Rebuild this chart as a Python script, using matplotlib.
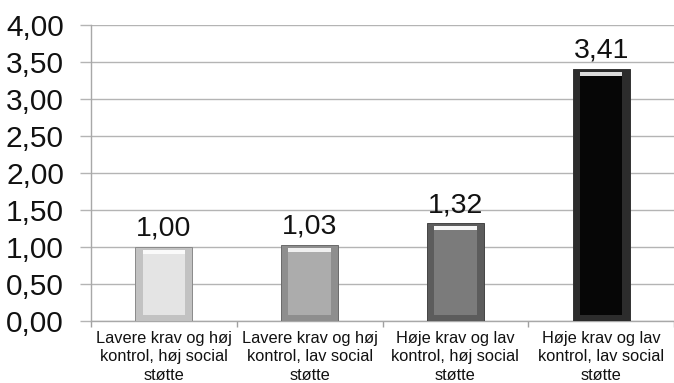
import matplotlib
matplotlib.use("Agg")
import matplotlib.pyplot as plt
import numpy as np

categories = ["Lavere krav og høj\nkontrol, høj social\nstøtte",
              "Lavere krav og høj\nkontrol, lav social\nstøtte",
              "Høje krav og lav\nkontrol, høj social\nstøtte",
              "Høje krav og lav\nkontrol, lav social\nstøtte"]
values = [1.00, 1.03, 1.32, 3.41]
value_labels = ["1,00", "1,03", "1,32", "3,41"]
yticks = [0.0, 0.5, 1.0, 1.5, 2.0, 2.5, 3.0, 3.5, 4.0]
ytick_labels = ["0,00", "0,50", "1,00", "1,50", "2,00", "2,50", "3,00", "3,50", "4,00"]

face_colors = ["#e4e4e4", "#acacac", "#7b7b7b", "#060606"]
edge_colors = ["#c2c2c2", "#8e8e8e", "#5c5c5c", "#2c2c2c"]
high_colors = ["#fafafa", "#f0f0f0", "#f6f6f6", "#dcdcdc"]
outline_colors = ["#8a8a8a", "#6a6a6a", "#444444", "#333333"]

plt.rcParams["font.family"] = ["Liberation Sans", "DejaVu Sans"]

fig = plt.figure(figsize=(6.74, 3.83), dpi=100)
ax = fig.add_axes([91/674, 1 - 321/383, 1 - 91/674, 296/383])

x = np.arange(len(values))
w = 0.39
sx = 0.05   # side bevel (data units)
by = 0.08   # bottom bevel

v = np.array(values)
# outer bevel body
ax.bar(x, v, width=w, color=edge_colors, zorder=3, linewidth=0.7, edgecolor=outline_colors)
# top highlight band
ax.bar(x, np.full_like(v, 0.055), bottom=v - 0.095, width=w - 2 * sx, color=high_colors, zorder=4, linewidth=0)
# inner face
ax.bar(x, v - 0.095 - by, bottom=by, width=w - 2 * sx, color=face_colors, zorder=5, linewidth=0)

for xi, vi, lab in zip(x, values, value_labels):
    ax.text(xi, vi + 0.07, lab, ha="center", va="bottom", fontsize=20.5, color="#111111")

ax.set_xlim(-0.5, len(values) - 0.5)
ax.set_ylim(0, 4)
ax.set_yticks(yticks)
ax.set_yticklabels(ytick_labels, fontsize=21.5, color="#111111")
ax.yaxis.grid(True, color="#b4b4b4", linewidth=1.0, zorder=0)
ax.set_axisbelow(True)

ax.set_xticks(x)
ax.set_xticklabels(categories, fontsize=11.8, linespacing=1.3, color="#111111")
ax.tick_params(axis="x", length=0, pad=7)
ax.set_xticks(np.arange(len(values) + 1) - 0.5, minor=True)
ax.tick_params(axis="x", which="minor", length=4, color="#a0a0a0", width=1)
ax.tick_params(axis="y", length=8, color="#b4b4b4", width=1, pad=11.5)

for s in ["top", "right"]:
    ax.spines[s].set_visible(False)
ax.spines["left"].set_color("#a8a8a8")
ax.spines["bottom"].set_color("#a8a8a8")
ax.spines["left"].set_linewidth(1.0)
ax.spines["bottom"].set_linewidth(1.0)

fig.savefig("out.png", dpi=100)
